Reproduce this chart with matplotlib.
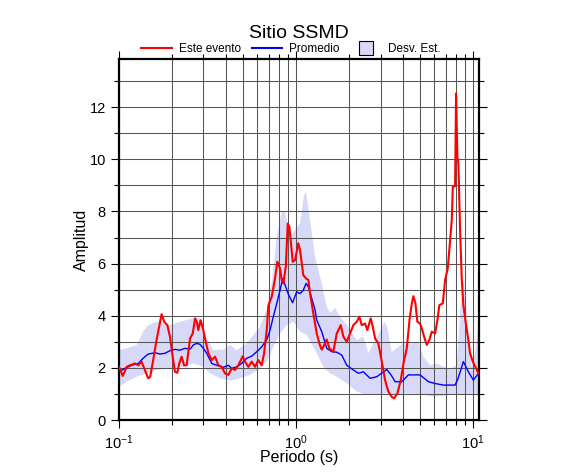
import numpy as np
import matplotlib
matplotlib.use("Agg")
import matplotlib.pyplot as plt
from matplotlib.lines import Line2D
from matplotlib.ticker import LogLocator, MultipleLocator

plt.rcParams["font.family"] = ["Liberation Sans", "DejaVu Sans"]
plt.rcParams["mathtext.default"] = "regular"

# --- Este evento (red) ---
t_evento = [0.100, 0.105, 0.1105, 0.1154, 0.123, 0.1285, 0.134, 0.140, 0.146, 0.150,
            0.156, 0.163, 0.170, 0.174, 0.180, 0.1875, 0.194, 0.201, 0.207, 0.2135,
            0.219, 0.226, 0.233, 0.241, 0.252, 0.261, 0.269, 0.275, 0.2805, 0.289,
            0.2995, 0.306, 0.320, 0.334, 0.349, 0.364, 0.380, 0.397, 0.4145, 0.433,
            0.452, 0.472, 0.500, 0.515, 0.538, 0.562, 0.587, 0.612, 0.640, 0.660,
            0.683, 0.698, 0.729, 0.761, 0.784, 0.812, 0.830, 0.848, 0.875, 0.898,
            0.917, 0.933, 0.958, 0.987, 1.030, 1.053, 1.099, 1.139, 1.174, 1.200,
            1.252, 1.309, 1.367, 1.397, 1.426, 1.491, 1.542, 1.624, 1.698, 1.789,
            1.850, 1.934, 2.019, 2.107, 2.203, 2.279, 2.351, 2.454, 2.528, 2.642,
            2.712, 2.795, 2.917, 3.050, 3.183, 3.323, 3.473, 3.579, 3.736, 3.905,
            4.050, 4.222, 4.384, 4.506, 4.600, 4.721, 4.845, 5.018, 5.130, 5.286,
            5.475, 5.664, 5.844, 6.100, 6.286, 6.452, 6.743, 6.948, 7.196, 7.415,
            7.581, 7.68, 7.913, 8.017, 8.153, 8.26, 8.445, 8.634, 8.815, 9.129,
            9.407, 9.618, 9.96, 10.30, 10.72]
a_evento = [2.04, 1.69, 2.04, 2.10, 2.17, 2.10, 2.24, 1.92, 1.60, 1.65,
            2.30, 3.07, 3.70, 4.06, 3.77, 3.64, 3.20, 2.43, 1.85, 1.81,
            2.17, 2.43, 2.10, 2.10, 3.13, 3.32, 3.90, 3.77, 3.45, 3.83,
            3.45, 3.13, 2.56, 2.30, 2.43, 2.10, 2.04, 1.79, 1.73, 1.98,
            1.92, 2.10, 2.45, 2.24, 2.04, 2.24, 2.04, 2.30, 2.10, 2.56,
            3.45, 4.40, 4.73, 5.43, 6.07, 5.82, 5.37, 5.24, 5.88, 7.54,
            7.41, 6.90, 6.07, 6.13, 6.78, 6.52, 5.56, 5.43, 5.37, 4.86,
            4.09, 3.32, 2.85, 2.70, 2.81, 3.09, 2.75, 2.62, 3.32, 3.64,
            3.20, 3.00, 3.32, 3.64, 3.77, 3.96, 3.64, 3.70, 3.45, 3.90,
            3.58, 3.13, 2.94, 2.24, 1.53, 1.09, 0.89, 0.83, 1.02, 1.53,
            2.20, 2.75, 3.90, 4.47, 4.75, 4.50, 3.77, 3.70, 3.52, 3.20,
            2.88, 3.07, 3.39, 3.32, 3.83, 4.41, 4.47, 5.37, 5.82, 6.90,
            7.67, 8.95, 8.97, 12.53, 10.10, 9.84, 7.29, 5.37, 4.41, 3.64,
            3.07, 2.56, 2.24, 2.04, 1.79]

# --- Promedio (blue) ---
t_prom = [0.100, 0.108, 0.118, 0.1285, 0.137, 0.146, 0.160, 0.170, 0.182, 0.194,
          0.207, 0.221, 0.236, 0.252, 0.263, 0.275, 0.287, 0.2995, 0.313, 0.334,
          0.356, 0.389, 0.4145, 0.433, 0.462, 0.493, 0.527, 0.562, 0.600, 0.640,
          0.683, 0.713, 0.744, 0.778, 0.812, 0.841, 0.867, 0.905, 0.956, 1.009,
          1.053, 1.099, 1.139, 1.174, 1.227, 1.281, 1.309, 1.397, 1.491, 1.591,
          1.698, 1.813, 1.934, 2.107, 2.249, 2.400, 2.619, 2.858, 3.254, 3.441,
          3.626, 3.956, 4.311, 5.018, 5.592, 6.100, 6.796, 7.913, 8.23, 8.815,
          9.407, 10.04, 10.72]
a_prom = [1.85, 1.98, 2.10, 2.17, 2.37, 2.53, 2.58, 2.53, 2.56, 2.66,
          2.71, 2.68, 2.75, 2.72, 2.88, 2.94, 2.90, 2.75, 2.56, 2.17,
          2.10, 2.02, 2.10, 1.98, 2.04, 2.17, 2.37, 2.45, 2.62, 2.81,
          3.07, 3.45, 3.96, 4.47, 4.98, 5.43, 5.18, 4.82, 4.50, 4.92,
          4.85, 4.98, 5.24, 5.11, 4.66, 4.22, 3.83, 3.39, 2.75, 2.62,
          2.60, 2.49, 2.10, 1.92, 1.79, 1.85, 1.60, 1.66, 1.94, 1.73,
          1.47, 1.47, 1.73, 1.73, 1.47, 1.40, 1.34, 1.34, 1.60, 2.24,
          1.85, 1.53, 1.79]

# --- Desv. Est. band ---
t_sup = [0.100, 0.1105, 0.126, 0.137, 0.146, 0.163, 0.194, 0.221, 0.263, 0.287,
         0.306, 0.341, 0.389, 0.424, 0.462, 0.527, 0.574, 0.626, 0.683, 0.729,
         0.778, 0.830, 0.867, 0.925, 0.987, 1.053, 1.110, 1.139, 1.200, 1.281,
         1.367, 1.491, 1.556, 1.661, 1.773, 1.934, 2.203, 2.400, 2.562, 2.734,
         2.983, 3.142, 3.267, 3.473, 3.771, 4.038, 4.600, 4.909, 5.238, 5.715,
         6.236, 6.796, 7.415, 8.09, 8.445, 8.747, 9.014, 9.407, 9.83, 10.26, 10.72]
a_sup = [2.68, 2.75, 2.88, 3.39, 3.64, 3.77, 3.64, 3.77, 3.90, 3.90,
         3.26, 2.68, 2.70, 2.88, 2.68, 2.94, 3.26, 3.58, 4.22, 5.24,
         7.00, 7.99, 7.99, 7.03, 7.29, 7.54, 8.63, 8.75, 7.67, 6.26,
         5.50, 4.35, 4.10, 4.30, 3.96, 3.64, 3.07, 3.20, 2.56, 2.94,
         3.40, 3.77, 3.60, 2.60, 2.80, 2.94, 2.94, 3.00, 2.43, 2.10,
         2.17, 2.04, 1.98, 2.10, 4.09, 5.50, 4.86, 3.32, 2.04, 2.56, 3.58]
t_inf = [0.100, 0.1105, 0.126, 0.143, 0.163, 0.194, 0.231, 0.263, 0.2995, 0.327,
         0.372, 0.424, 0.483, 0.550, 0.626, 0.683, 0.744, 0.812, 0.886, 0.965,
         1.053, 1.149, 1.309, 1.426, 1.556, 1.698, 1.934, 2.203, 2.508, 2.858,
         3.254, 3.706, 4.222, 5.018, 5.967, 7.415, 9.213, 10.72]
a_inf = [1.28, 1.47, 1.66, 1.79, 1.92, 1.98, 2.04, 2.17, 2.04, 1.79,
         1.60, 1.51, 1.60, 1.73, 1.98, 2.24, 2.81, 3.32, 3.64, 3.77,
         3.39, 3.26, 2.56, 2.04, 1.79, 1.66, 1.41, 1.09, 0.96, 0.96,
         1.02, 0.96, 1.02, 1.00, 0.89, 0.96, 0.96, 0.96]

BAND = "#d8d8f8"

fig = plt.figure(figsize=(5.86, 4.75), dpi=100)
ax = fig.add_axes([119 / 586, 55 / 475, 360 / 586, 361 / 475])

# band as a closed polygon (upper edge, then lower edge backwards)
ax.fill(np.r_[t_sup, t_inf[::-1]], np.r_[a_sup, a_inf[::-1]],
        color=BAND, lw=0, zorder=1)
ax.plot(t_prom, a_prom, color="#0000ff", lw=1.0, zorder=3)
ax.plot(t_evento, a_evento, color="#ff0000", lw=1.5, zorder=4)

ax.set_xscale("log")
ax.set_xlim(0.1, 10.8)
ax.set_ylim(0, 13.85)
ax.xaxis.set_major_locator(LogLocator(base=10))
ax.xaxis.set_minor_locator(LogLocator(base=10, subs=np.arange(2, 10)))
ax.yaxis.set_major_locator(MultipleLocator(2))
ax.yaxis.set_minor_locator(MultipleLocator(1))

ax.grid(True, which="both", color="#555555", lw=0.75)
ax.set_axisbelow("line")
ax.tick_params(which="both", direction="out", top=True, right=True,
               labelsize=10.5, color="black")
ax.tick_params(which="major", length=6, width=0.8)
ax.tick_params(which="minor", length=3.5, width=0.8)
for sp in ax.spines.values():
    sp.set_linewidth(1.6)

ax.set_xlabel("Periodo (s)", fontsize=11.5, labelpad=-1)
ax.set_ylabel("Amplitud", fontsize=11.5, labelpad=0)
fig.text(298.5 / 586, 1 - 33 / 475, "Sitio SSMD", fontsize=14,
         ha="center", va="center")

handles = [
    Line2D([], [], color="#ff0000", lw=1.5),
    Line2D([], [], color="#0000ff", lw=1.5),
    Line2D([], [], ls="none", marker="s", markersize=10,
           markerfacecolor=BAND, markeredgecolor="black", markeredgewidth=0.8),
]
fig.legend(handles, ["Este evento", "Promedio", "Desv. Est."],
           loc="center", bbox_to_anchor=(291 / 586, 1 - 49 / 475),
           ncol=3, frameon=False, fontsize=8.5, handlelength=2.6,
           handletextpad=0.6, columnspacing=0.9, borderpad=0)

fig.savefig("out.png", dpi=100)
